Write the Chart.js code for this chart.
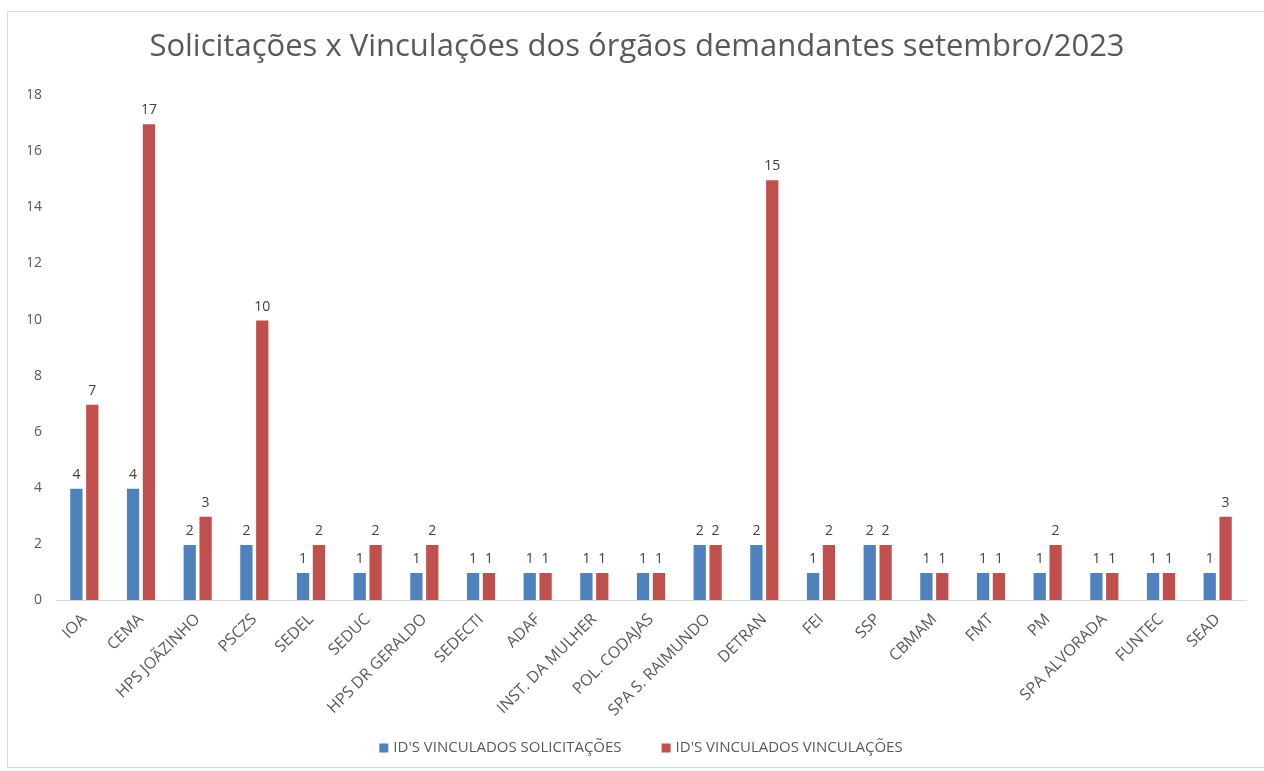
<!DOCTYPE html>
<html>
<head>
<meta charset="utf-8">
<script src="https://cdn.jsdelivr.net/npm/chart.js@4/dist/chart.umd.min.js"></script>
<style>
html,body{margin:0;padding:0;background:#fff;}
#frame{position:absolute;left:7px;top:11px;width:1300px;height:757px;border:1px solid #d9d9d9;box-sizing:border-box;}
#wrap{position:absolute;left:0;top:0;width:1264px;height:771px;}
</style>
</head>
<body>
<div id="frame"></div>
<div id="wrap"><canvas id="c" width="1264" height="771"></canvas></div>
<script>
const categories = ["IOA","CEMA","HPS JOÃZINHO","PSCZS","SEDEL","SEDUC","HPS DR GERALDO","SEDECTI","ADAF","INST. DA MULHER","POL. CODAJAS","SPA S. RAIMUNDO","DETRAN","FEI","SSP","CBMAM","FMT","PM","SPA ALVORADA","FUNTEC","SEAD"];
const solicitacoes = [4,4,2,2,1,1,1,1,1,1,1,2,2,1,2,1,1,1,1,1,1];
const vinculacoes = [7,17,3,10,2,2,2,1,1,1,1,2,15,2,2,1,1,2,1,1,3];
const yTicks = [0,2,4,6,8,10,12,14,16,18];
const seriesNames = ["ID'S VINCULADOS SOLICITAÇÕES","ID'S VINCULADOS VINCULAÇÕES"];

const FONT = "'Open Sans', 'Liberation Sans', sans-serif";
const GREY = '#595959';

const valueLabels = {
  id: 'valueLabels',
  afterDatasetsDraw(chart) {
    const ctx = chart.ctx;
    ctx.save();
    ctx.font = '14px ' + FONT;
    ctx.fillStyle = '#404040';
    ctx.textAlign = 'center';
    ctx.textBaseline = 'bottom';
    chart.data.datasets.forEach((ds, i) => {
      const meta = chart.getDatasetMeta(i);
      meta.data.forEach((bar, j) => {
        ctx.fillText(String(ds.data[j]), bar.x, bar.y - 6);
      });
    });
    ctx.restore();
  }
};

// bottom legend drawn from the datasets
const bottomLegend = {
  id: 'bottomLegend',
  afterDraw(chart) {
    const ctx = chart.ctx;
    ctx.save();
    ctx.font = '15px ' + FONT;
    ctx.textBaseline = 'middle';
    ctx.textAlign = 'left';
    const box = 9, boxGap = 5, itemGap = 40;
    const items = chart.data.datasets.map(ds => ({text: ds.label, color: ds.backgroundColor, w: box + boxGap + ctx.measureText(ds.label).width}));
    const total = items.reduce((s, it) => s + it.w, 0) + itemGap * (items.length - 1);
    let x = 641 - total / 2;
    const y = 748;
    items.forEach(it => {
      ctx.fillStyle = it.color;
      ctx.fillRect(x, y - box / 2, box, box);
      ctx.fillStyle = GREY;
      ctx.fillText(it.text, x + box + boxGap, y);
      x += it.w + itemGap;
    });
    ctx.restore();
  }
};

new Chart(document.getElementById('c'), {
  type: 'bar',
  data: {
    labels: categories,
    datasets: [
      {label: seriesNames[0], data: solicitacoes, backgroundColor: '#4f81bd', borderColor:'#ffffff', borderWidth:{left:1,right:1,top:1,bottom:0}, categoryPercentage: 0.56, barPercentage: 0.9},
      {label: seriesNames[1], data: vinculacoes, backgroundColor: '#c0504d', borderColor:'#ffffff', borderWidth:{left:1,right:1,top:1,bottom:0}, categoryPercentage: 0.56, barPercentage: 0.9}
    ]
  },
  options: {
    responsive: false,
    animation: false,
    layout: {padding: {left: 28, right: 18, top: 0, bottom: 45}},
    plugins: {
      title: {display: true, text: 'Solicitações x Vinculações dos órgãos demandantes setembro/2023', color: GREY, font: {family: FONT, size: 31, weight: 'normal'}, padding: {top: 29, bottom: 29}},
      legend: {display: false},
      tooltip: {enabled: false}
    },
    scales: {
      x: {
        grid: {display: false, drawTicks: false},
        border: {display: true, color: '#d9d9d9', width: 1},
        ticks: {color: GREY, font: {family: FONT, size: 16}, minRotation: 45, maxRotation: 45, padding: 10, autoSkip: false},
        afterFit: (scale) => { scale.height = 126; }
      },
      y: {
        min: 0, max: 18,
        afterBuildTicks: (axis) => { axis.ticks = yTicks.map(v => ({value: v})); },
        grid: {display: false, drawTicks: false},
        border: {display: false},
        ticks: {color: GREY, font: {family: FONT, size: 14}, padding: 14},
        afterFit: (scale) => { scale.width = 28; }
      }
    }
  },
  plugins: [valueLabels, bottomLegend]
});
</script>
</body>
</html>
